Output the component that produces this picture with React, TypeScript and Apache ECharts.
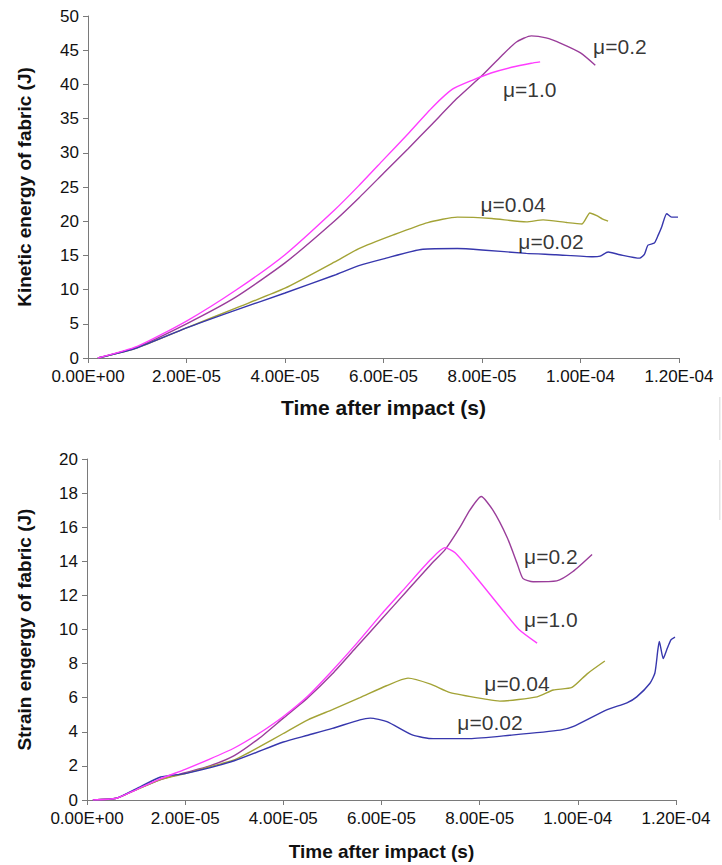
import React, { useEffect, useRef } from "react";
import * as echarts from "echarts";

// ---------- Kinetic energy (top chart) ----------
const keT_mu02 = [0.2e-5, 1e-5, 2e-5, 3e-5, 4e-5, 5e-5, 5.5e-5, 6e-5, 6.5e-5, 7e-5, 7.5e-5, 8e-5, 8.4e-5, 8.7e-5, 9e-5, 9.3e-5, 9.6e-5, 10e-5, 10.3e-5];
const keV_mu02 = [0, 1.6, 5.0, 8.9, 13.9, 20.0, 23.4, 27.0, 30.6, 34.3, 38.0, 41.3, 44.2, 46.2, 47.1, 46.8, 46.0, 44.6, 42.8];

const keT_mu10 = [0.2e-5, 1e-5, 2e-5, 3e-5, 4e-5, 5e-5, 5.5e-5, 6e-5, 6.5e-5, 7e-5, 7.4e-5, 7.8e-5, 8.2e-5, 8.6e-5, 9e-5, 9.18e-5];
const keV_mu10 = [0, 1.7, 5.4, 9.9, 15.1, 21.6, 25.2, 29.0, 32.8, 36.7, 39.3, 40.6, 41.7, 42.5, 43.1, 43.3];

const keT_mu004 = [0.2e-5, 1e-5, 2e-5, 3e-5, 4e-5, 5e-5, 5.5e-5, 6.2e-5, 6.9e-5, 7.5e-5, 8.2e-5, 8.9e-5, 9.24e-5, 9.72e-5, 10.03e-5, 10.19e-5, 10.33e-5, 10.45e-5, 10.56e-5];
const keV_mu004 = [0, 1.5, 4.4, 7.3, 10.2, 14.0, 16.0, 18.0, 19.8, 20.6, 20.4, 19.9, 20.2, 19.8, 19.6, 21.2, 20.8, 20.3, 20.0];

const keT_mu002 = [0.2e-5, 1e-5, 2e-5, 3e-5, 4e-5, 5e-5, 5.5e-5, 6e-5, 6.8e-5, 7.5e-5, 8e-5, 8.9e-5, 9.5e-5, 10.25e-5, 10.4e-5, 10.56e-5, 10.8e-5, 11.2e-5, 11.3e-5, 11.37e-5, 11.5e-5, 11.58e-5, 11.65e-5, 11.75e-5, 11.85e-5, 11.98e-5];
const keV_mu002 = [0, 1.5, 4.4, 7.0, 9.5, 12.1, 13.5, 14.5, 15.9, 16.0, 15.8, 15.3, 15.1, 14.8, 14.9, 15.5, 15.1, 14.6, 15.2, 16.5, 16.8, 18.0, 19.2, 21.1, 20.6, 20.6];

// ---------- Strain energy (bottom chart) ----------
const seT_mu02 = [0.12e-5, 0.6e-5, 1e-5, 1.5e-5, 2e-5, 2.5e-5, 3e-5, 3.5e-5, 4e-5, 4.5e-5, 5e-5, 5.5e-5, 6e-5, 6.5e-5, 7e-5, 7.3e-5, 7.6e-5, 7.8e-5, 8.03e-5, 8.27e-5, 8.56e-5, 8.76e-5, 8.88e-5, 9.09e-5, 9.57e-5, 9.9e-5, 10.29e-5];
const seV_mu02 = [0, 0.1, 0.6, 1.2, 1.6, 2.0, 2.6, 3.6, 4.8, 6.0, 7.4, 9.0, 10.6, 12.2, 13.8, 14.7, 16.0, 17.0, 17.8, 17.0, 15.4, 13.9, 13.0, 12.8, 12.85, 13.4, 14.4];

const seT_mu10 = [0.12e-5, 0.6e-5, 1e-5, 1.5e-5, 2e-5, 2.5e-5, 3e-5, 3.5e-5, 4e-5, 4.5e-5, 5e-5, 5.5e-5, 6e-5, 6.5e-5, 7e-5, 7.29e-5, 7.5e-5, 7.86e-5, 8.2e-5, 8.48e-5, 8.8e-5, 9.17e-5];
const seV_mu10 = [0, 0.1, 0.6, 1.25, 1.8, 2.4, 3.05, 3.9, 4.9, 6.1, 7.6, 9.2, 10.9, 12.5, 14.1, 14.8, 14.5, 13.3, 12.1, 11.1, 10.0, 9.2];

const seT_mu004 = [0.12e-5, 0.6e-5, 1e-5, 1.5e-5, 2e-5, 2.5e-5, 3e-5, 3.5e-5, 4e-5, 4.5e-5, 5e-5, 5.56e-5, 6.1e-5, 6.54e-5, 7e-5, 7.4e-5, 8.15e-5, 8.41e-5, 9.17e-5, 9.5e-5, 9.88e-5, 10.19e-5, 10.55e-5];
const seV_mu004 = [0, 0.1, 0.6, 1.2, 1.55, 1.95, 2.35, 3.1, 3.9, 4.7, 5.3, 6.0, 6.7, 7.15, 6.8, 6.3, 5.9, 5.8, 6.05, 6.45, 6.6, 7.4, 8.15];

const seT_mu002 = [0.12e-5, 0.6e-5, 1e-5, 1.5e-5, 2e-5, 3e-5, 4e-5, 4.5e-5, 5e-5, 5.56e-5, 5.77e-5, 6.11e-5, 6.64e-5, 7.05e-5, 7.8e-5, 8.62e-5, 9.64e-5, 9.9e-5, 10.6e-5, 11e-5, 11.2e-5, 11.47e-5, 11.57e-5, 11.63e-5, 11.66e-5, 11.74e-5, 11.81e-5, 11.9e-5, 11.98e-5];
const seV_mu002 = [0, 0.1, 0.65, 1.35, 1.55, 2.3, 3.4, 3.8, 4.2, 4.7, 4.8, 4.6, 3.8, 3.6, 3.6, 3.8, 4.1, 4.3, 5.3, 5.7, 6.05, 6.85, 7.45, 8.8, 9.3, 8.3, 8.8, 9.4, 9.55];

// ---------- Series labels ----------
const seriesNames = ["μ=0.2", "μ=1.0", "μ=0.04", "μ=0.02"];
const keLabelT = [10.8e-5, 8.97e-5, 8.63e-5, 9.4e-5];
const keLabelV = [45.5, 39.2, 22.4, 17.1];
const seLabelT = [9.45e-5, 9.45e-5, 8.76e-5, 8.21e-5];
const seLabelV = [14.3, 10.56, 6.86, 4.57];

const colors = ["#9a3d9a", "#ff3dff", "#a3a336", "#3737ad"];

const zip = (t: number[], v: number[]) => t.map((x, i) => [x, v[i]]);

const FONT = "'Liberation Sans', Arial, Helvetica, sans-serif";

function fmtSci(v: number): string {
  if (Math.abs(v) < 1e-15) return "0.00E+00";
  let e = Math.floor(Math.log10(Math.abs(v)));
  let m = v / Math.pow(10, e);
  if (+m.toFixed(2) >= 10) {
    m /= 10;
    e += 1;
  }
  const sign = e < 0 ? "-" : "+";
  const ae = Math.abs(e);
  return m.toFixed(2) + "E" + sign + (ae < 10 ? "0" + ae : String(ae));
}

export default function App() {
  const ref = useRef<HTMLDivElement>(null);
  useEffect(() => {
    if (!ref.current) return;
    const chart = echarts.init(ref.current, undefined, { renderer: "svg" });
    const axisLine = { show: true, lineStyle: { color: "#7a7a7a", width: 1 } };
    const axisTick = { show: true, inside: false, length: 5, lineStyle: { color: "#7a7a7a" } };
    const xAxisBase = (gi: number, nameGap: number, nameSize: number) => ({
      type: "value",
      gridIndex: gi,
      min: 0,
      max: 1.2e-4,
      interval: 2e-5,
      splitLine: { show: false },
      axisLine,
      axisTick,
      axisLabel: { fontSize: 17, color: "#111", fontFamily: FONT, margin: 10, formatter: (v: number) => fmtSci(v) },
      name: "Time after impact (s)",
      nameLocation: "middle",
      nameGap,
      nameTextStyle: { fontSize: nameSize, fontWeight: "bold", color: "#111", fontFamily: FONT },
    });
    const yAxisBase = (gi: number, max: number, interval: number, name: string, nameGap: number) => ({
      type: "value",
      gridIndex: gi,
      min: 0,
      max,
      interval,
      splitLine: { show: false },
      axisLine,
      axisTick,
      axisLabel: { fontSize: 17, color: "#111", fontFamily: FONT, margin: 9 },
      name,
      nameLocation: "middle",
      nameRotate: 90,
      nameGap,
      nameTextStyle: { fontSize: 19, fontWeight: "bold", color: "#111", fontFamily: FONT },
    });

    const keData = [zip(keT_mu02, keV_mu02), zip(keT_mu10, keV_mu10), zip(keT_mu004, keV_mu004), zip(keT_mu002, keV_mu002)];
    const seData = [zip(seT_mu02, seV_mu02), zip(seT_mu10, seV_mu10), zip(seT_mu004, seV_mu004), zip(seT_mu002, seV_mu002)];

    const lineSeries: any[] = [];
    [keData, seData].forEach((set, gi) => {
      set.forEach((d, i) => {
        lineSeries.push({
          type: "line",
          name: seriesNames[i],
          xAxisIndex: gi,
          yAxisIndex: gi,
          data: d,
          showSymbol: false,
          smooth: 0.2,
          lineStyle: { color: colors[i], width: 1.4 },
          itemStyle: { color: colors[i] },
          silent: true,
          z: i === 1 ? 3 : 2,
        });
      });
    });

    const labelSeries = (gi: number, ts: number[], vs: number[]) => ({
      type: "scatter",
      xAxisIndex: gi,
      yAxisIndex: gi,
      symbolSize: 0,
      silent: true,
      data: seriesNames.map((n, i) => ({ name: n, value: [ts[i], vs[i]] })),
      label: {
        show: true,
        position: "inside",
        formatter: "{b}",
        fontSize: 21,
        color: "#000",
        textBorderWidth: 0,
        fontFamily: FONT,
      },
    });

    chart.setOption({
      animation: false,
      backgroundColor: "#ffffff",
      grid: [
        { left: 88, top: 16, width: 591, height: 342, containLabel: false },
        { left: 87, top: 459, width: 589, height: 341, containLabel: false },
      ],
      xAxis: [xAxisBase(0, 39, 21), xAxisBase(1, 42, 19)],
      yAxis: [
        yAxisBase(0, 50, 5, "Kinetic energy of fabric (J)", 54),
        yAxisBase(1, 20, 2, "Strain engergy of fabric (J)", 53),
      ],
      series: [...lineSeries, labelSeries(0, keLabelT, keLabelV), labelSeries(1, seLabelT, seLabelV)],
      graphic: [
        { type: "rect", shape: { x: 719, y: 397, width: 1.5, height: 43 }, style: { fill: "#e4e4e4" }, silent: true },
        { type: "rect", shape: { x: 719, y: 460, width: 1.5, height: 60 }, style: { fill: "#e4e4e4" }, silent: true },
      ],
    });
    return () => chart.dispose();
  }, []);
  return <div ref={ref} style={{ position: "absolute", left: 0, top: 0, width: 722, height: 865 }} />;
}
